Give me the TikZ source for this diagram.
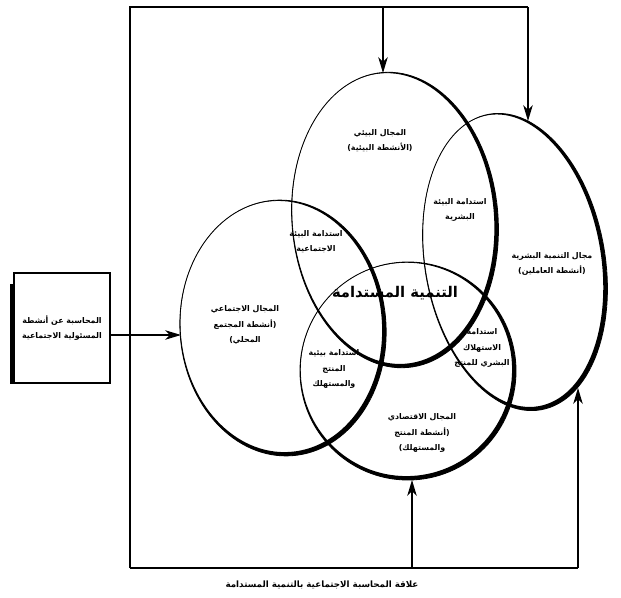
\documentclass[tikz,border=0pt]{standalone}
\usepackage{fontspec}
\usetikzlibrary{arrows.meta}
\TeXXeTstate=1
\newfontfamily\arabicfont[Script=Arabic]{DejaVu Sans}
\newcommand{\ar}[1]{\beginR #1\endR}

\begin{document}
\begin{tikzpicture}[x=0.025cm, y=-0.025cm,
		lbl/.style={font=\arabicfont\bfseries\fontsize{5.6}{10.7}\selectfont, align=center, inner sep=0pt},
		ring/.style={line width=0.6pt},
		frame/.style={line width=0.8pt},
		flow/.style={line width=0.8pt, -{Stealth[length=4mm, width=2.4mm, inset=1.2mm]}}]
		\useasboundingbox (0,0) rectangle (621,598);

		% the four domains, heavier on the lower right
		\foreach \cx/\cy/\rx/\ry/\ang in {395/220/103/148/5, 515/262/90/150/10, 283/328/103/128/4, 408/371/108/109/0} {
			\begin{scope}[shift={(\cx,\cy)}, rotate=\ang]
				\begin{scope}
					\clip (0,0) ellipse [x radius=\rx, y radius=\ry];
					\fill[even odd rule] (0,0) ellipse [x radius=\rx, y radius=\ry]
						(-1.6,-1.6) ellipse [x radius=\rx-2.3, y radius=\ry-2.3];
				\end{scope}
				\draw[ring] (0,0) ellipse [x radius=\rx, y radius=\ry];
			\end{scope}
		}

		\coordinate (envtop) at (383,73);
		\coordinate (humtop) at (528,121);
		\coordinate (humlow) at (578,388);
		\coordinate (econlow) at (412,480);
		\coordinate (socin) at (181,335);

		\coordinate (tl) at (130,7);
		\coordinate (tr) at (528,7);
		\coordinate (bl) at (130,568);
		\coordinate (br) at (578,568);

		\node[draw, line width=0.8pt, minimum width=2.4cm, minimum height=2.75cm, lbl] (box) at (62,328)
			{\ar{المحاسبة عن أنشطة}\\\ar{المسئولية الاجتماعية}};
		\draw[line width=2.2pt] ([xshift=-1pt, yshift=-0.3cm]box.north west) -- ([xshift=-1pt]box.south west);

		\draw[frame] (bl) -- (tl) -- (tr);
		\draw[frame] (bl) -- (br);
		\draw[flow] (tr) -- (humtop);
		\draw[flow] (envtop |- tl) -- (envtop);
		\draw[flow] (br) -- (humlow);
		\draw[flow] (econlow |- bl) -- (econlow);
		\draw[flow] (box.east |- socin) -- (socin);

		\node[lbl] (envlbl) at (380,141) {\ar{المجال البيئي}\\\ar{(الأنشطة البيئية)}};
		\node[lbl] (envhum) at (460,210) {\ar{استدامة البيئة}\\\ar{البشرية}};
		\node[lbl] (envsoc) at (316,242) {\ar{استدامة البيئة}\\\ar{الاجتماعية}};
		\node[lbl, font=\arabicfont\bfseries\fontsize{10.5}{12}\selectfont] (core) at (395,293) {\ar{التنمية المستدامة}};
		\node[lbl] (humlbl) at (552,264) {\ar{مجال التنمية البشرية}\\\ar{(أنشطة العاملين)}};
		\node[lbl] (soclbl) at (245,325) {\ar{المجال الاجتماعي}\\\ar{(أنشطة المجتمع}\\\ar{المحلي)}};
		\node[lbl] (socecon) at (334,369) {\ar{استدامة بيئية}\\\ar{المنتج}\\\ar{والمستهلك}};
		\node[lbl] (humecon) at (482,348) {\ar{استدامة}\\\ar{الاستهلاك}\\\ar{البشري للمنتج}};
		\node[lbl] (econlbl) at (422,433) {\ar{المجال الاقتصادي}\\\ar{(أنشطة المنتج}\\\ar{والمستهلك)}};
		\node[lbl, font=\arabicfont\bfseries\fontsize{6.2}{8}\selectfont] (title) at (322,585) {\ar{علاقة المحاسبة الاجتماعية بالتنمية المستدامة}};

	\end{tikzpicture}
\end{document}
